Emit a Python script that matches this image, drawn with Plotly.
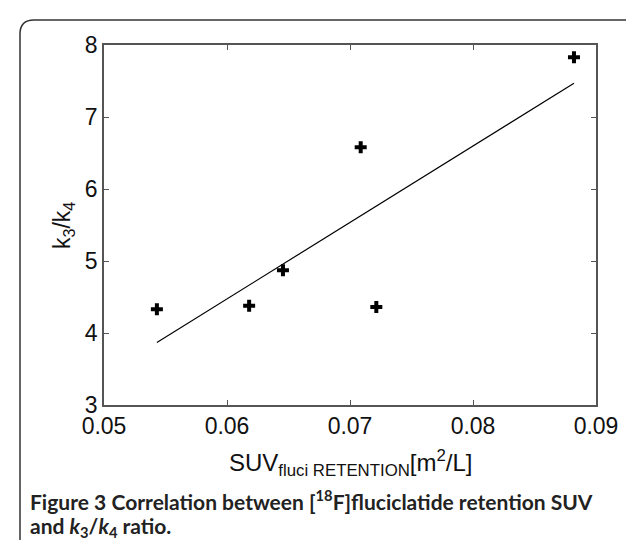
import numpy as np
import plotly.graph_objects as go

# ---- data ----
suv = [0.0543, 0.0618, 0.06455, 0.07087, 0.07214, 0.08821]
k3k4 = [4.33, 4.38, 4.87, 6.58, 4.36, 7.83]
x_ticks = [0.05, 0.06, 0.07, 0.08, 0.09]
x_ticklabels = ["0.05", "0.06", "0.07", "0.08", "0.09"]
y_ticks = [3, 4, 5, 6, 7, 8]
y_ticklabels = ["3", "4", "5", "6", "7", "8"]

# linear regression fit
slope, intercept = np.polyfit(suv, k3k4, 1)
fit_x = [min(suv), max(suv)]
fit_y = [slope * v + intercept for v in fit_x]

W, H = 634, 540
L, R, T, B = 96, 588, 37, 397  # plot area in pixels


def px(xp):
    return (xp - L) / (R - L)


def py(yp):
    return (B - yp) / (B - T)


fig = go.Figure()
fig.add_trace(go.Scatter(x=fit_x, y=fit_y, mode="lines",
                         line=dict(color="black", width=1.2),
                         showlegend=False, hoverinfo="skip"))
fig.add_trace(go.Scatter(x=suv, y=k3k4, mode="markers",
                         marker=dict(symbol="cross", size=10, color="black",
                                     line=dict(width=0)),
                         showlegend=False))

axis_common = dict(showgrid=False, zeroline=False, showline=True,
                   linecolor="#555555", linewidth=1.5, mirror="ticks",
                   ticks="inside", ticklen=5, tickwidth=1.2, tickcolor="#555555",
                   tickfont=dict(family="Liberation Sans, Arial", size=23, color="#111"))

fig.update_xaxes(range=[0.05, 0.09], tickvals=x_ticks, ticktext=x_ticklabels,
                 **axis_common)
fig.update_yaxes(range=[3, 8], tickvals=y_ticks, ticktext=y_ticklabels,
                 **axis_common)

# rounded border box
r = 14
x0, x1, y0, y1 = 12, 633, 12, 600
path = (f"M {px(x0)},{py(y0 + r)} "
        f"Q {px(x0)},{py(y0)} {px(x0 + r)},{py(y0)} "
        f"L {px(x1 - r)},{py(y0)} "
        f"Q {px(x1)},{py(y0)} {px(x1)},{py(y0 + r)} "
        f"L {px(x1)},{py(y1)} "
        f"M {px(x0)},{py(y0 + r)} L {px(x0)},{py(y1)}")
fig.add_shape(type="path", path=path, xref="paper", yref="paper",
              line=dict(color="#333333", width=1.5), layer="below")

fig.add_annotation(x=px(343), y=py(455), xref="paper", yref="paper",
                   text="SUV<sub>fluci RETENTION</sub>[m<sup>2</sup>/L]",
                   showarrow=False, xanchor="center", yanchor="middle",
                   font=dict(family="Liberation Sans, Arial", size=24, color="#111"))
fig.add_annotation(x=px(55), y=py(218), xref="paper", yref="paper",
                   text="k<sub>3</sub>/k<sub>4</sub>", textangle=-90,
                   showarrow=False, xanchor="center", yanchor="middle",
                   font=dict(family="Liberation Sans, Arial", size=23, color="#111"))

cap_font = dict(family="Lato", size=21, color="#222222")
fig.add_annotation(x=px(20), y=py(492), xref="paper", yref="paper",
                   text="<b>Figure 3</b> <b>Correlation between [<sup>18</sup>F]fluciclatide retention SUV</b>",
                   showarrow=False, xanchor="left", yanchor="middle", font=cap_font)
fig.add_annotation(x=px(20), y=py(519), xref="paper", yref="paper",
                   text="<b>and <i>k</i><sub>3</sub>/<i>k</i><sub>4</sub> ratio.</b>",
                   showarrow=False, xanchor="left", yanchor="middle", font=cap_font)

fig.update_layout(width=W, height=H, autosize=False,
                  margin=dict(l=L, r=W - R, t=T, b=H - B),
                  paper_bgcolor="white", plot_bgcolor="white")

fig.write_html("out.html")
